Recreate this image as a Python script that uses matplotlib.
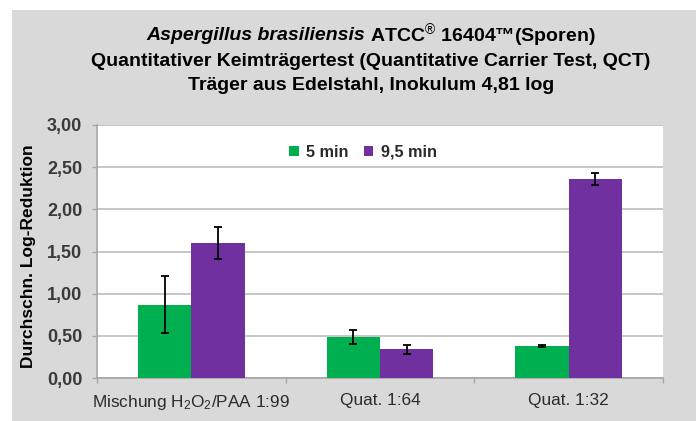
import numpy as np
import matplotlib
matplotlib.use('Agg')
import matplotlib.pyplot as plt
from matplotlib.patches import Rectangle

plt.rcParams['font.family'] = ['Liberation Sans', 'DejaVu Sans']
plt.rcParams['mathtext.fontset'] = 'custom'
plt.rcParams['mathtext.rm'] = 'Liberation Sans'
plt.rcParams['mathtext.it'] = 'Liberation Sans:italic'
plt.rcParams['mathtext.bf'] = 'Liberation Sans:bold'

categories = ['Mischung H$_2$O$_2$/PAA 1:99', 'Quat. 1:64', 'Quat. 1:32']
series_names = ['5 min', '9,5 min']
vals_5 = [0.87, 0.49, 0.38]
err_5 = [0.34, 0.085, 0.01]
vals_95 = [1.60, 0.34, 2.36]
err_95 = [0.185, 0.05, 0.07]
yticks = [0.0, 0.5, 1.0, 1.5, 2.0, 2.5, 3.0]

GREEN = '#00b050'
PURPLE = '#7030a0'
BG = '#d9d9d9'
TXT = '#2b2b2b'

W, H = 696, 421
fig = plt.figure(figsize=(W / 100, H / 100), dpi=100)
fig.patch.set_facecolor('white')
fig.patches.append(Rectangle((12 / W, 0), 1 - 12 / W, 1 - 10 / H,
                             transform=fig.transFigure, facecolor=BG,
                             edgecolor='none', zorder=-10))

ax = fig.add_axes([97 / W, 1 - 378 / H, 566 / W, 253 / H])
ax.set_facecolor('white')

x = np.arange(len(categories))
bw = 0.2835
ax.bar(x - bw / 2, vals_5, bw, color=GREEN, label=series_names[0], zorder=3)
ax.bar(x + bw / 2, vals_95, bw, color=PURPLE, label=series_names[1], zorder=3)
ekw = dict(fmt='none', ecolor='black', elinewidth=1.3, capsize=3, capthick=1.3, zorder=4)
ax.errorbar(x - bw / 2, vals_5, yerr=err_5, **ekw)
ax.errorbar(x + bw / 2, vals_95, yerr=err_95, **ekw)

ax.set_xlim(-0.5, len(categories) - 0.5)
ax.set_ylim(0, 3.0)
ax.set_yticks(yticks)
ax.set_yticklabels([f'{v:.2f}'.replace('.', ',') for v in yticks],
                   fontsize=13, fontweight='bold', color='#3a3a3a')
ax.yaxis.grid(True, color='#c6c6c6', linewidth=1.4, zorder=0)
ax.set_axisbelow(True)

ax.set_xticks(x)
ax.set_xticklabels(categories, fontsize=12.4, color=TXT)
ax.set_xticks(np.arange(-0.5, len(categories)), minor=True)
ax.tick_params(axis='x', which='major', length=0, pad=11)
ax.tick_params(axis='x', which='minor', length=3.6, color='#a6a6a6', width=1)
ax.tick_params(axis='y', length=3.6, color='#a6a6a6', width=1, pad=7)

for s in ['top', 'right']:
    ax.spines[s].set_visible(False)
for s in ['left', 'bottom']:
    ax.spines[s].set_color('#a6a6a6')
    ax.spines[s].set_linewidth(1.2)

ax.set_ylabel('Durchschn. Log-Reduktion', fontsize=12.5, fontweight='bold',
              color='black')
ax.yaxis.set_label_coords(-0.108, 0.48)

leg = ax.legend(loc='upper center', bbox_to_anchor=(0.47, 0.98), ncol=2,
                frameon=False, handlelength=0.6, handleheight=0.6,
                handletextpad=0.45, columnspacing=0.9,
                prop={'weight': 'bold', 'size': 11.7})
for t in leg.get_texts():
    t.set_color(TXT)


def centered_line(pieces, cx, y, size=14):
    # lay out several styled text runs side by side, centred on cx
    texts = [fig.text(0, y, s, fontsize=size, fontweight='bold', style=st,
                      ha='left', va='center', color='black')
             for s, st in pieces]
    fig.canvas.draw()
    r = fig.canvas.get_renderer()
    widths = [t.get_window_extent(r).width for t in texts]
    xpos = cx * W - sum(widths) / 2
    for t, w in zip(texts, widths):
        t.set_x(xpos / W)
        xpos += w


cx = 371 / W
centered_line([('Aspergillus brasiliensis', 'italic'),
               (' ATCC$^{\\circledR}$ 16404™(Sporen)', 'normal')], cx, 1 - 36 / H)
centered_line([('Quantitativer Keimträgertest (Quantitative Carrier Test, QCT)', 'normal')],
              cx, 1 - 61 / H)
centered_line([('Träger aus Edelstahl, Inokulum 4,81 log', 'normal')], cx, 1 - 86 / H)

fig.savefig('out.png', dpi=100)
